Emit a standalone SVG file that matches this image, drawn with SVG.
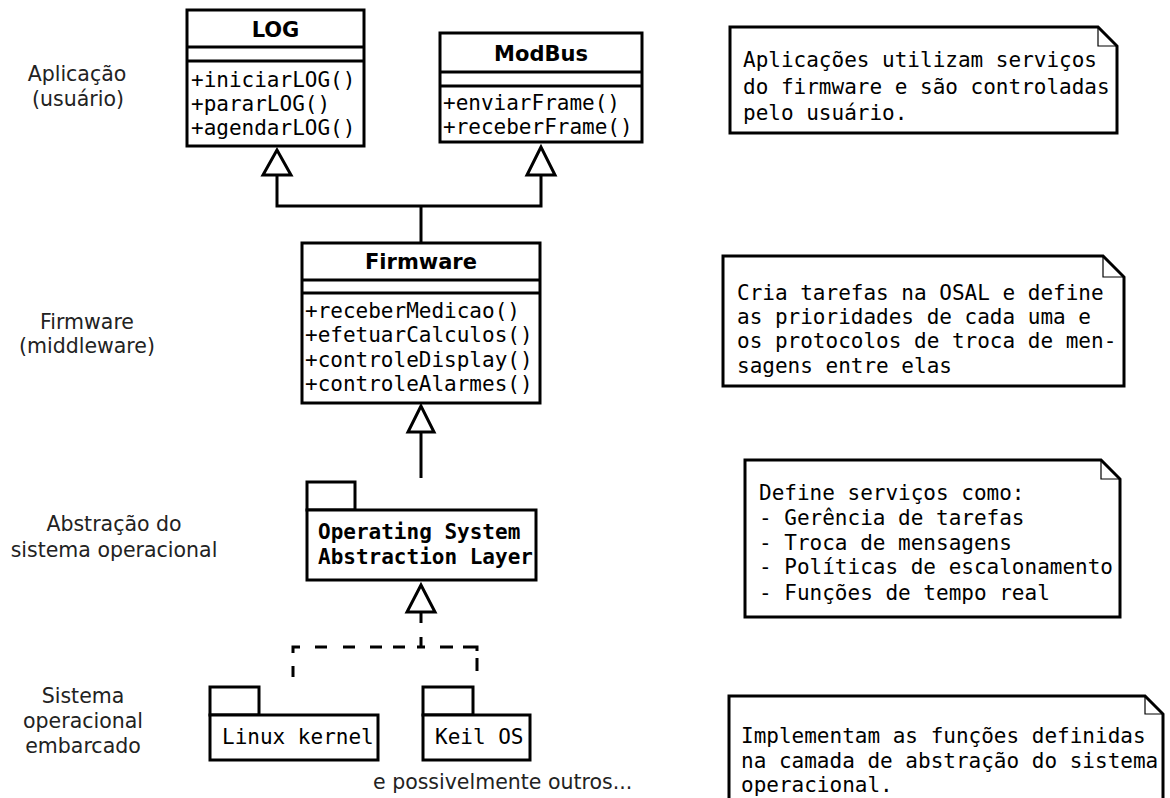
<svg xmlns="http://www.w3.org/2000/svg" width="1170" height="798" viewBox="0 0 1170 798">
<style>
.box{fill:#fff;stroke:#000;stroke-width:3}
.ln{fill:none;stroke:#000;stroke-width:3}
.thin{fill:none;stroke:#000;stroke-width:1.2}
.tri{fill:#fff;stroke:#000;stroke-width:3;stroke-linejoin:miter}
.mono{font-family:"DejaVu Sans Mono","Liberation Mono",monospace;font-size:21px;fill:#000}
.monob{font-family:"DejaVu Sans Mono","Liberation Mono",monospace;font-size:21px;font-weight:bold;fill:#000}
.title{font-family:"DejaVu Sans","Liberation Sans",sans-serif;font-size:21px;font-weight:bold;fill:#000;text-anchor:middle}
.lbl{font-family:"DejaVu Sans","Liberation Sans",sans-serif;font-size:20.5px;fill:#222;text-anchor:middle}
.free{font-family:"DejaVu Sans","Liberation Sans",sans-serif;font-size:20.5px;fill:#222}
</style>
<rect width="1170" height="798" fill="#fff"/>

<g id="labels">
<text class="lbl" x="77" y="81">Aplicação</text>
<text class="lbl" x="78" y="106">(usuário)</text>
<text class="lbl" x="87" y="329">Firmware</text>
<text class="lbl" x="87" y="353">(middleware)</text>
<text class="lbl" x="114" y="531">Abstração do</text>
<text class="lbl" x="114" y="557">sistema operacional</text>
<text class="lbl" x="83" y="703">Sistema</text>
<text class="lbl" x="83" y="728">operacional</text>
<text class="lbl" x="83" y="753">embarcado</text>
</g>

<g id="connectors">
<path class="ln" d="M277,175 V206 H541 V175"/>
<path class="ln" d="M421,206 V243"/>
<polygon class="tri" points="277,150 263,175 291,175"/>
<polygon class="tri" points="541,147 527,175 555,175"/>
<path class="ln" d="M421,432 V478"/>
<polygon class="tri" points="421,406 408,432 434,432"/>
<path class="ln" d="M421,612 V623 M421,637 V647 M293,653 V647 H300 M315,647 H327 M343,647 H355 M370,647 H382 M393,647 H405 M417,647 H425 M440,647 H453 M463,647 H477 V651 M477,658 V671 M293,666 V677"/>
<polygon class="tri" points="421,585 407,612 435,612"/>
</g>

<g id="LOG">
<rect class="box" x="187" y="10" width="177" height="136"/>
<path class="ln" d="M187,47 H364 M187,61 H364"/>
<text class="title" x="275.5" y="37">LOG</text>
<text class="mono" x="191" y="87">+iniciarLOG()</text>
<text class="mono" x="191" y="111">+pararLOG()</text>
<text class="mono" x="191" y="135">+agendarLOG()</text>
</g>

<g id="ModBus">
<rect class="box" x="440" y="33" width="202" height="109"/>
<path class="ln" d="M440,72 H642 M440,86 H642"/>
<text class="title" x="541" y="61">ModBus</text>
<text class="mono" x="443" y="110">+enviarFrame()</text>
<text class="mono" x="443" y="134">+receberFrame()</text>
</g>

<g id="Firmware">
<rect class="box" x="302" y="243" width="238" height="160"/>
<path class="ln" d="M302,280 H540 M302,293 H540"/>
<text class="title" x="421" y="269">Firmware</text>
<text class="mono" x="305" y="318">+receberMedicao()</text>
<text class="mono" x="305" y="342">+efetuarCalculos()</text>
<text class="mono" x="305" y="367">+controleDisplay()</text>
<text class="mono" x="305" y="391">+controleAlarmes()</text>
</g>

<g id="OSAL">
<rect class="box" x="307" y="482" width="48" height="28"/>
<rect class="box" x="307" y="510" width="229" height="70"/>
<text class="monob" x="318" y="539">Operating System</text>
<text class="monob" x="318" y="564">Abstraction Layer</text>
</g>

<g id="Linux">
<rect class="box" x="210" y="687" width="49" height="28"/>
<rect class="box" x="210" y="715" width="168" height="45"/>
<text class="mono" x="222" y="744">Linux kernel</text>
</g>

<g id="Keil">
<rect class="box" x="423" y="687" width="50" height="28"/>
<rect class="box" x="423" y="715" width="107" height="45"/>
<text class="mono" x="435" y="744">Keil OS</text>
</g>

<text class="free" x="373" y="789">e possivelmente outros...</text>

<g id="note1">
<path class="box" d="M730,27 H1098 L1117,46 V133 H730 Z"/>
<path class="thin" d="M1098,27 V46 H1117"/>
<text class="mono" x="743" y="67">Aplicações utilizam serviços</text>
<text class="mono" x="743" y="94">do firmware e são controladas</text>
<text class="mono" x="743" y="120">pelo usuário.</text>
</g>

<g id="note2">
<path class="box" d="M723,256 H1103 L1124,277 V386 H723 Z"/>
<path class="thin" d="M1103,256 V277 H1124"/>
<text class="mono" x="737" y="300">Cria tarefas na OSAL e define</text>
<text class="mono" x="737" y="324">as prioridades de cada uma e</text>
<text class="mono" x="737" y="348">os protocolos de troca de men-</text>
<text class="mono" x="737" y="373">sagens entre elas</text>
</g>

<g id="note3">
<path class="box" d="M745,460 H1101 L1120,479 V617 H745 Z"/>
<path class="thin" d="M1101,460 V479 H1120"/>
<text class="mono" x="759" y="500">Define serviços como:</text>
<text class="mono" x="759" y="525">- Gerência de tarefas</text>
<text class="mono" x="759" y="550">- Troca de mensagens</text>
<text class="mono" x="759" y="574">- Políticas de escalonamento</text>
<text class="mono" x="759" y="600">- Funções de tempo real</text>
</g>

<g id="note4">
<path class="box" d="M729,696 H1145 L1163,714 V810 H729 Z"/>
<path class="thin" d="M1145,696 V714 H1163"/>
<text class="mono" x="741" y="743">Implementam as funções definidas</text>
<text class="mono" x="741" y="768">na camada de abstração do sistema</text>
<text class="mono" x="741" y="792">operacional.</text>
</g>
</svg>
